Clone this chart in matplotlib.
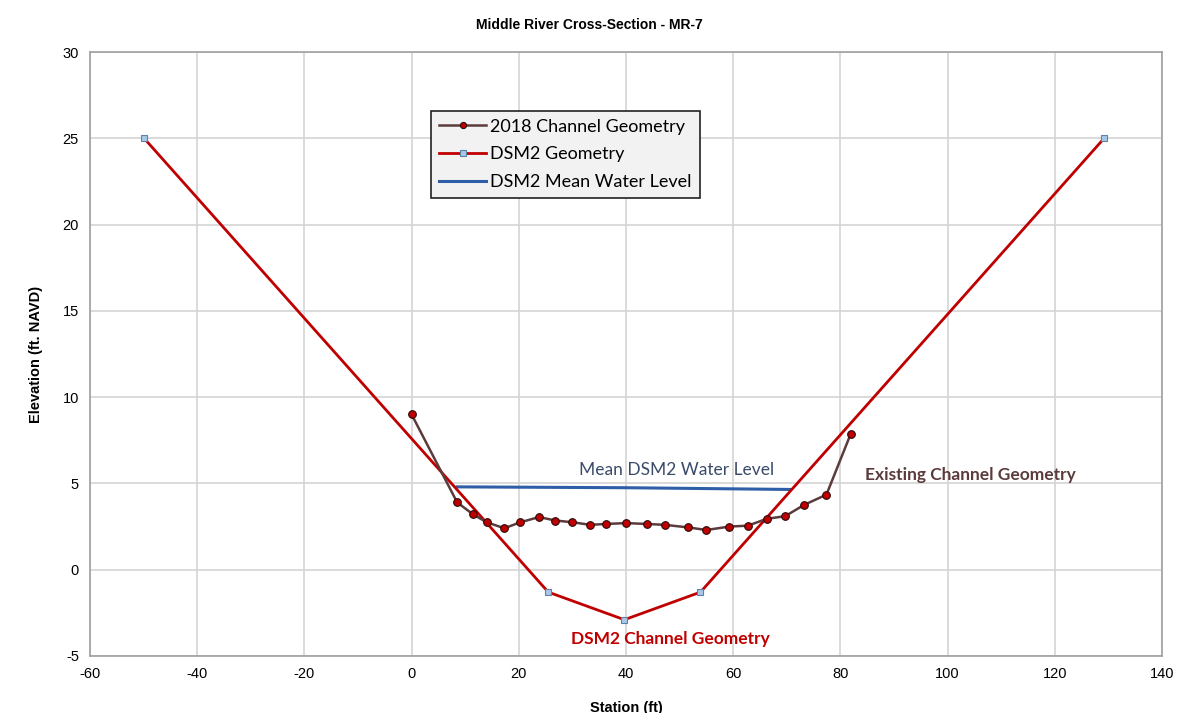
import matplotlib.pyplot as plt
import numpy as np

plt.rcParams['axes.unicode_minus'] = False

# 2018 surveyed channel geometry
station_2018 = [0.0, 8.5, 11.5, 14.0, 17.3, 20.3, 23.8, 26.8, 30.0, 33.3, 36.2, 40.0,
                43.9, 47.2, 51.6, 55.0, 59.3, 62.7, 66.3, 69.7, 73.2, 77.4, 81.9]
elev_2018 = [9.0, 3.9, 3.2, 2.75, 2.4, 2.75, 3.05, 2.85, 2.75, 2.6, 2.65, 2.7,
             2.65, 2.6, 2.45, 2.3, 2.5, 2.55, 2.95, 3.1, 3.75, 4.35, 7.85]

# DSM2 geometry
station_dsm2 = [-49.9, 25.5, 39.7, 53.9, 129.2]
elev_dsm2 = [25.0, -1.3, -2.9, -1.3, 25.0]

# DSM2 mean water level
station_wl = [8.5, 40.0, 70.6]
elev_wl = [4.8, 4.75, 4.65]

narrow = ['Liberation Sans Narrow', 'Liberation Sans', 'DejaVu Sans']
soft = ['Lato', 'DejaVu Sans']

fig = plt.figure(figsize=(11.78, 7.13), dpi=100)
ax = fig.add_axes([0.0764, 0.080, 0.910, 0.847])

ax.plot(station_dsm2, elev_dsm2, color='#c00000', lw=2.0, marker='s', ms=5,
        mfc='#a9c8e8', mec='#6080a8', mew=0.8, label='DSM2 Geometry', zorder=3)
ax.plot(station_2018, elev_2018, color='#5b3b3b', lw=1.8, marker='o', ms=5.5,
        mfc='#c00000', mec='#2a0a0a', mew=0.8, label='2018 Channel Geometry', zorder=4)
ax.plot(station_wl, elev_wl, color='#2f5ea8', lw=2.2, label='DSM2 Mean Water Level', zorder=2)

ax.set_xlim(-60, 140)
ax.set_ylim(-5, 30)
ax.set_xticks(np.arange(-60, 141, 20))
ax.set_yticks(np.arange(-5, 31, 5))
ax.grid(True, color='#d4d4d4', lw=1.2)
ax.set_axisbelow(True)
for s in ax.spines.values():
    s.set_color('#a0a0a0')
    s.set_linewidth(1.2)
ax.tick_params(length=0, pad=8, labelsize=10.5)
for lab in ax.get_xticklabels() + ax.get_yticklabels():
    lab.set_family(narrow)

ax.set_xlabel('Station (ft)', fontsize=10.5, fontweight='bold', family=narrow, labelpad=14)
ax.set_ylabel('Elevation (ft. NAVD)', fontsize=10.5, fontweight='bold', family=narrow, labelpad=14)
fig.suptitle('Middle River Cross-Section - MR-7', y=0.975, fontsize=10, fontweight='bold',
             family=narrow)

handles, labels = ax.get_legend_handles_labels()
order = [1, 0, 2]
leg = ax.legend([handles[i] for i in order], [labels[i] for i in order],
                loc='upper left', bbox_to_anchor=(0.31, 0.918), frameon=True,
                fancybox=False, edgecolor='#222222', facecolor='#f2f2f2',
                prop={'family': soft, 'size': 13}, handlelength=2.6,
                handletextpad=0.2, borderpad=0.45, labelspacing=0.65,
                markerscale=0.8)
leg.get_frame().set_linewidth(1.2)
leg.get_frame().set_alpha(1)

ax.text(49.5, 5.3, 'Mean DSM2 Water Level', color='#3a4a6a', fontsize=12.5,
        family=soft, ha='center', va='bottom')
ax.text(84.5, 5.5, 'Existing Channel Geometry', color='#5b3b3b', fontsize=12.5,
        fontweight='bold', family=soft, ha='left', va='center')
ax.text(48.2, -4.0, 'DSM2 Channel Geometry', color='#c00000', fontsize=12.5,
        fontweight='bold', family=soft, ha='center', va='center')

fig.savefig('out.png', dpi=100)
